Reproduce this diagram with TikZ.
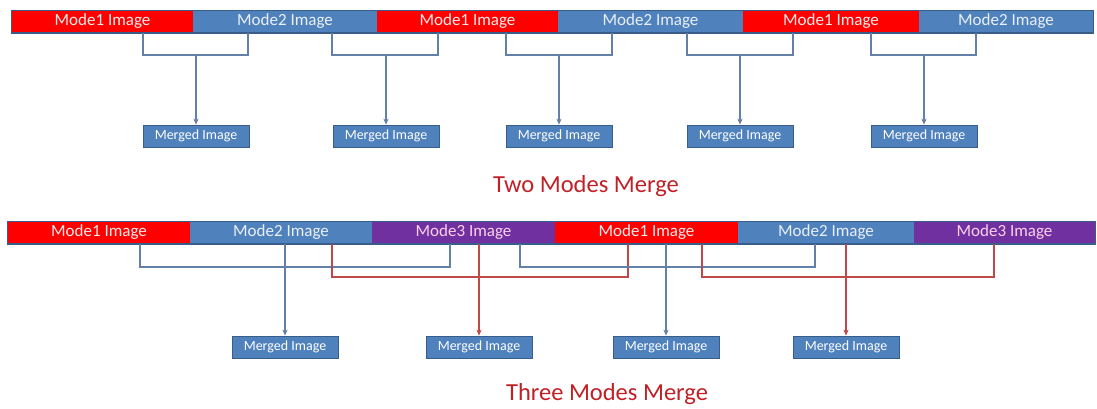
\documentclass[tikz,border=0pt]{standalone}
\usepackage{fontspec}
\setmainfont{Carlito}
\usepackage{xcolor}
\usetikzlibrary{arrows.meta}

\definecolor{modered}{RGB}{255,0,0}
\definecolor{modeblue}{RGB}{79,129,189}
\definecolor{modepurple}{RGB}{112,48,160}
\definecolor{boxedge}{RGB}{56,93,138}
\definecolor{linkblue}{RGB}{98,128,170}
\definecolor{linkred}{RGB}{192,72,70}
\definecolor{titlered}{RGB}{192,32,38}

\begin{document}
\begin{tikzpicture}[
    >={Stealth[length=3pt,width=2.6pt]},
    x=0.5pt, y=-0.5pt,
    seg/.style={minimum height=11pt,inner sep=0pt,
                font=\fontsize{8.5}{10}\selectfont},
    modeA/.style={seg,fill=modered,text=white!92!red},
    modeB/.style={seg,fill=modeblue,text=white!88!modeblue},
    modeC/.style={seg,fill=modepurple,text=white!82!magenta},
    merged/.style={draw=boxedge,fill=modeblue,minimum width=53pt,minimum height=11pt,
                   inner sep=0pt,font=\fontsize{7}{8}\selectfont,text=white},
    baredge/.style={draw=boxedge,line width=0.6pt},
    bluelink/.style={draw=linkblue,line width=0.6pt},
    redlink/.style={draw=linkred,line width=0.6pt},
    caption/.style={font=\fontsize{12.25}{14}\selectfont,text=titlered},
  ]
  \useasboundingbox (0,0) rectangle (1097,408);

  % --- top bar: two modes alternating ---
  \node[modeA,minimum width=90.5pt] (t1) at (102.5,21.5) {Mode1 Image};
  \node[modeB,minimum width=92pt]   (t2) at (285,21.5)   {Mode2 Image};
  \node[modeA,minimum width=90.5pt] (t3) at (467.5,21.5) {Mode1 Image};
  \node[modeB,minimum width=92.5pt] (t4) at (650.5,21.5) {Mode2 Image};
  \node[modeA,minimum width=88pt]   (t5) at (831,21.5)   {Mode1 Image};
  \node[modeB,minimum width=87pt]   (t6) at (1006,21.5)  {Mode2 Image};
  \draw[baredge] (t1.north west) rectangle (t6.south east);

  % --- merged outputs of the two-mode pairs ---
  \node[merged] (m1) at (196,136) {Merged Image};
  \node[merged] (m2) at (386,136) {Merged Image};
  \node[merged] (m3) at (559,136) {Merged Image};
  \node[merged] (m4) at (740,136) {Merged Image};
  \node[merged] (m5) at (924,136) {Merged Image};

  % --- pair brackets: each neighbouring pair feeds one merged image ---
  \foreach \a/\b/\l/\r/\m in {t1/t2/143/248/m1, t2/t3/332/438/m2, t3/t4/506/612/m3,
                              t4/t5/687/793/m4, t5/t6/871/976/m5} {
    \coordinate (j\m) at (\m.north |- 0,55);
    \draw[bluelink] (\a.south -| \l,0) |- (j\m) -| (\b.south -| \r,0);
    \draw[bluelink,->] (j\m) -- (\m);
  }

  \node[caption] (cap1) at (586,186) {Two Modes Merge};

  % --- bottom bar: three modes ---
  \node[modeA,minimum width=91pt]   (b1) at (99,232.5)    {Mode1 Image};
  \node[modeB,minimum width=91pt]   (b2) at (281,232.5)   {Mode2 Image};
  \node[modeC,minimum width=91.5pt] (b3) at (463.5,232.5) {Mode3 Image};
  \node[modeA,minimum width=91.5pt] (b4) at (646.5,232.5) {Mode1 Image};
  \node[modeB,minimum width=88pt]   (b5) at (826,232.5)   {Mode2 Image};
  \node[modeC,minimum width=90.5pt] (b6) at (1004.5,232.5){Mode3 Image};
  \draw[baredge] (b1.north west) rectangle (b6.south east);

  % --- merged outputs of the three-mode triples ---
  \node[merged] (n1) at (285,347) {Merged Image};
  \node[merged] (n2) at (479,347) {Merged Image};
  \node[merged] (n3) at (666,347) {Merged Image};
  \node[merged] (n4) at (846,347) {Merged Image};

  % --- triple brackets: outer legs join, the middle one drops to the box ---
  \draw[bluelink] (b1.south -| 140,0) |- (450,267) -- (b3.south -| 450,0);
  \draw[bluelink,->] (b2.south -| n1) -- (n1);
  \draw[redlink] (b2.south -| 332,0) |- (628,277) -- (b4.south -| 628,0);
  \draw[redlink,->] (b3.south -| n2) -- (n2);
  \draw[bluelink] (b3.south -| 520,0) |- (815,267) -- (b5.south -| 815,0);
  \draw[bluelink,->] (b4.south -| n3) -- (n3);
  \draw[redlink] (b4.south -| 702,0) |- (994,277) -- (b6.south -| 994,0);
  \draw[redlink,->] (b5.south -| n4) -- (n4);

  \node[caption] (cap2) at (607,394) {Three Modes Merge};

\end{tikzpicture}
\end{document}
